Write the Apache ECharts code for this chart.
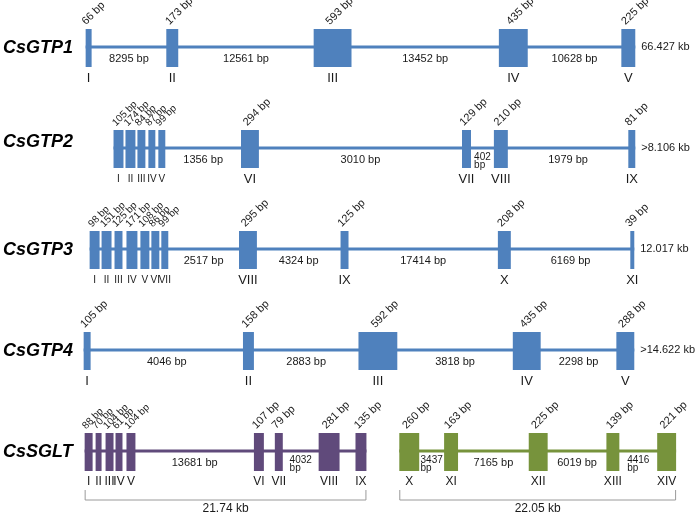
<!DOCTYPE html>
<html><head><meta charset="utf-8">
<script src="https://cdn.jsdelivr.net/npm/echarts@6/dist/echarts.min.js"></script>
<style>html,body{margin:0;padding:0;background:#fff}#c{width:700px;height:513px}</style>
</head><body><div id="c"></div>
<script>
// ---------- data ----------
const genes = ['CsGTP1','CsGTP2','CsGTP3','CsGTP4','CsSGLT'];

// exon start/end along the schematic x axis (diagram units)
const gtp1Start = [83,164,312,498,621];
const gtp1End   = [89,176,350,527,635];
const gtp1Sizes = ['66 bp','173 bp','593 bp','435 bp','225 bp'];
const gtp1Introns = ['8295 bp','12561 bp','13452 bp','10628 bp'];
const gtp1Roman = ['I','II','III','IV','V'];
const gtp1Total = '66.427 kb';

const gtp2Start = [111,123,135,146,156,239,461,493,628];
const gtp2End   = [121,133,143,153,163,257,470,507,635];
const gtp2Sizes = ['105 bp','174 bp','84 bp','87 bp','99 bp','294 bp','129 bp','210 bp','81 bp'];
const gtp2Introns = ['','','','','1356 bp','3010 bp','402\nbp','1979 bp'];
const gtp2Roman = ['I','II','III','IV','V','VI','VII','VIII','IX'];
const gtp2Total = '>8.106 kb';

const gtp3Start = [87,99,112,124,138,149,159,237,339,497,630];
const gtp3End   = [97,109,120,135,147,157,166,255,347,510,634];
const gtp3Sizes = ['98 bp','151 bp','125 bp','171 bp','108 bp','86 bp','99 bp','295 bp','125 bp','208 bp','39 bp'];
const gtp3Introns = ['','','','','','','2517 bp','4324 bp','17414 bp','6169 bp'];
const gtp3Roman = ['I','II','III','IV','V','VI','VII','VIII','IX','X','XI'];
const gtp3Total = '12.017 kb';

const gtp4Start = [81,241,357,512,616];
const gtp4End   = [88,252,396,540,634];
const gtp4Sizes = ['105 bp','158 bp','592 bp','435 bp','288 bp'];
const gtp4Introns = ['4046 bp','2883 bp','3818 bp','2298 bp'];
const gtp4Roman = ['I','II','III','IV','V'];
const gtp4Total = '>14.622 kb';

const sgltAStart = [82,93,103,113,124,252,273,317,354];
const sgltAEnd   = [90,99,111,120,133,262,281,338,365];
const sgltASizes = ['88 bp','70 bp','104 bp','61 bp','104 bp','107 bp','79 bp','281 bp','135 bp'];
const sgltAIntrons = ['','','','','13681 bp','','4032\nbp',''];
const sgltARoman = ['I','II','III','IV','V','VI','VII','VIII','IX'];
const sgltASpan = '21.74 kb';

const sgltBStart = [398,443,528,606,657];
const sgltBEnd   = [418,457,547,619,676];
const sgltBSizes = ['260 bp','163 bp','225 bp','139 bp','221 bp'];
const sgltBIntrons = ['3437\nbp','7165 bp','6019 bp','4416\nbp'];
const sgltBRoman = ['X','XI','XII','XIII','XIV'];
const sgltBSpan = '22.05 kb';

// ---------- styles ----------
const BLUE='#4f81bd', PURPLE='#604a7b', GREEN='#77933c';
const FONT='"Liberation Sans", Arial, sans-serif';
const TXT='#1a1a1a';
const EXON_H=38;

const tracks=[
 {row:0,color:BLUE,start:gtp1Start,end:gtp1End,sizes:gtp1Sizes,introns:gtp1Introns,roman:gtp1Roman,total:gtp1Total,crowd:0,romanBig:13,romanSmall:13},
 {row:1,color:BLUE,start:gtp2Start,end:gtp2End,sizes:gtp2Sizes,introns:gtp2Introns,roman:gtp2Roman,total:gtp2Total,crowd:5,romanBig:13,romanSmall:10},
 {row:2,color:BLUE,start:gtp3Start,end:gtp3End,sizes:gtp3Sizes,introns:gtp3Introns,roman:gtp3Roman,total:gtp3Total,crowd:7,romanBig:13,romanSmall:10},
 {row:3,color:BLUE,start:gtp4Start,end:gtp4End,sizes:gtp4Sizes,introns:gtp4Introns,roman:gtp4Roman,total:gtp4Total,crowd:0,romanBig:13,romanSmall:13},
 {row:4,color:PURPLE,start:sgltAStart,end:sgltAEnd,sizes:sgltASizes,introns:sgltAIntrons,roman:sgltARoman,span:sgltASpan,crowd:5,romanBig:12,romanSmall:12},
 {row:4,color:GREEN,start:sgltBStart,end:sgltBEnd,sizes:sgltBSizes,introns:sgltBIntrons,roman:sgltBRoman,span:sgltBSpan,crowd:0,romanBig:12,romanSmall:12}
];

const exonData=[], lineData=[], labelData=[], labelInfo=[], bracketData=[];
tracks.forEach((t,ti)=>{
  const last=t.end.length-1;
  lineData.push([t.start[0], t.row, t.end[last], ti]);
  t.start.forEach((s,i)=>{
    const e=t.end[i], c=(s+e)/2, crowded=i<t.crowd;
    exonData.push([s,t.row,e,ti]);
    labelData.push([c,t.row]); labelInfo.push({text:t.sizes[i],kind:'size',fs:crowded?10:11});
    labelData.push([c,t.row]); labelInfo.push({text:t.roman[i],kind:'roman',fs:crowded?t.romanSmall:t.romanBig});
  });
  t.introns.forEach((txt,i)=>{
    if(!txt) return;
    const m=(t.end[i]+t.start[i+1])/2;
    labelData.push([m,t.row]);
    labelInfo.push({text:txt,kind:txt.indexOf('\n')>=0?'intron2':'intron'});
  });
  if(t.total){ labelData.push([t.end[last]+6,t.row]); labelInfo.push({text:t.total,kind:'total'}); }
  if(t.span){
    bracketData.push([t.start[0],t.row,t.end[last]]);
    labelData.push([(t.start[0]+t.end[last])/2,t.row]); labelInfo.push({text:t.span,kind:'span'});
  }
});

const mctx=document.createElement('canvas').getContext('2d');
function textW(s,fs){ mctx.font=fs+'px '+FONT; return mctx.measureText(s).width; }

const chart=echarts.init(document.getElementById('c'),null,{renderer:'canvas'});
chart.setOption({
  animation:false,
  grid:{left:0,right:0,top:48,bottom:61},
  xAxis:{type:'value',min:0,max:700,show:false},
  yAxis:{type:'category',data:genes,inverse:true,boundaryGap:false,
    axisLine:{show:false},axisTick:{show:false},splitLine:{show:false},
    axisLabel:{inside:true,margin:0,
      formatter:(v)=> v==='CsGTP2' ? '{up|'+v+'}' : '{n|'+v+'}',
      rich:{
        n:{fontSize:18,fontWeight:'bold',fontStyle:'italic',fontFamily:FONT,color:'#000'},
        up:{fontSize:18,fontWeight:'bold',fontStyle:'italic',fontFamily:FONT,color:'#000',padding:[0,0,14,0]}
      }}},
  series:[
    {type:'custom',name:'introns',data:lineData,
     renderItem:(p,api)=>{
       const a=api.coord([api.value(0),api.value(1)]), b=api.coord([api.value(2),api.value(1)]);
       return {type:'rect',shape:{x:a[0],y:a[1]-2.5,width:b[0]-a[0],height:3},style:{fill:tracks[api.value(3)].color}};
     }},
    {type:'custom',name:'exons',data:exonData,
     renderItem:(p,api)=>{
       const a=api.coord([api.value(0),api.value(1)]), b=api.coord([api.value(2),api.value(1)]);
       return {type:'rect',shape:{x:a[0],y:a[1]-EXON_H/2,width:b[0]-a[0],height:EXON_H},style:{fill:tracks[api.value(3)].color}};
     }},
    {type:'custom',name:'brackets',data:bracketData,
     renderItem:(p,api)=>{
       const a=api.coord([api.value(0),api.value(1)]), b=api.coord([api.value(2),api.value(1)]);
       const y1=a[1]+38, y2=a[1]+48;
       return {type:'polyline',shape:{points:[[a[0]+0.5,y1],[a[0]+0.5,y2],[b[0]-0.5,y2],[b[0]-0.5,y1]]},
               style:{stroke:'#9a9a9a',lineWidth:1,fill:null}};
     }},
    {type:'custom',name:'labels',data:labelData,
     renderItem:(p,api)=>{
       const info=labelInfo[p.dataIndex];
       const c=api.coord([api.value(0),api.value(1)]);
       const x=c[0], y=c[1];
       if(info.kind==='size'){
         return {type:'text',x:x-1,y:y-EXON_H/2-2,rotation:Math.PI/4,
           style:{text:info.text,x:0,y:0,fontSize:info.fs,fontFamily:FONT,fill:TXT,align:'left',verticalAlign:'bottom'}};
       }
       if(info.kind==='roman'){
         return {type:'text',style:{text:info.text,x:x,y:y+30,fontSize:info.fs,fontFamily:FONT,fill:TXT,align:'center',verticalAlign:'middle'}};
       }
       if(info.kind==='intron'){
         return {type:'text',style:{text:info.text,x:x,y:y+11,fontSize:11,fontFamily:FONT,fill:TXT,align:'center',verticalAlign:'middle'}};
       }
       if(info.kind==='intron2'){
         const first=info.text.split('\n')[0];
         const w=textW(first,10);
         return {type:'text',style:{text:info.text,x:x-w/2,y:y+12,fontSize:10,lineHeight:8.5,fontFamily:FONT,fill:TXT,align:'left',verticalAlign:'middle'}};
       }
       if(info.kind==='total'){
         return {type:'text',style:{text:info.text,x:x,y:y-1,fontSize:11,fontFamily:FONT,fill:TXT,align:'left',verticalAlign:'middle'}};
       }
       if(info.kind==='span'){
         return {type:'text',style:{text:info.text,x:x,y:y+57,fontSize:12,fontFamily:FONT,fill:TXT,align:'center',verticalAlign:'middle'}};
       }
     }}
  ]
});
</script></body></html>
